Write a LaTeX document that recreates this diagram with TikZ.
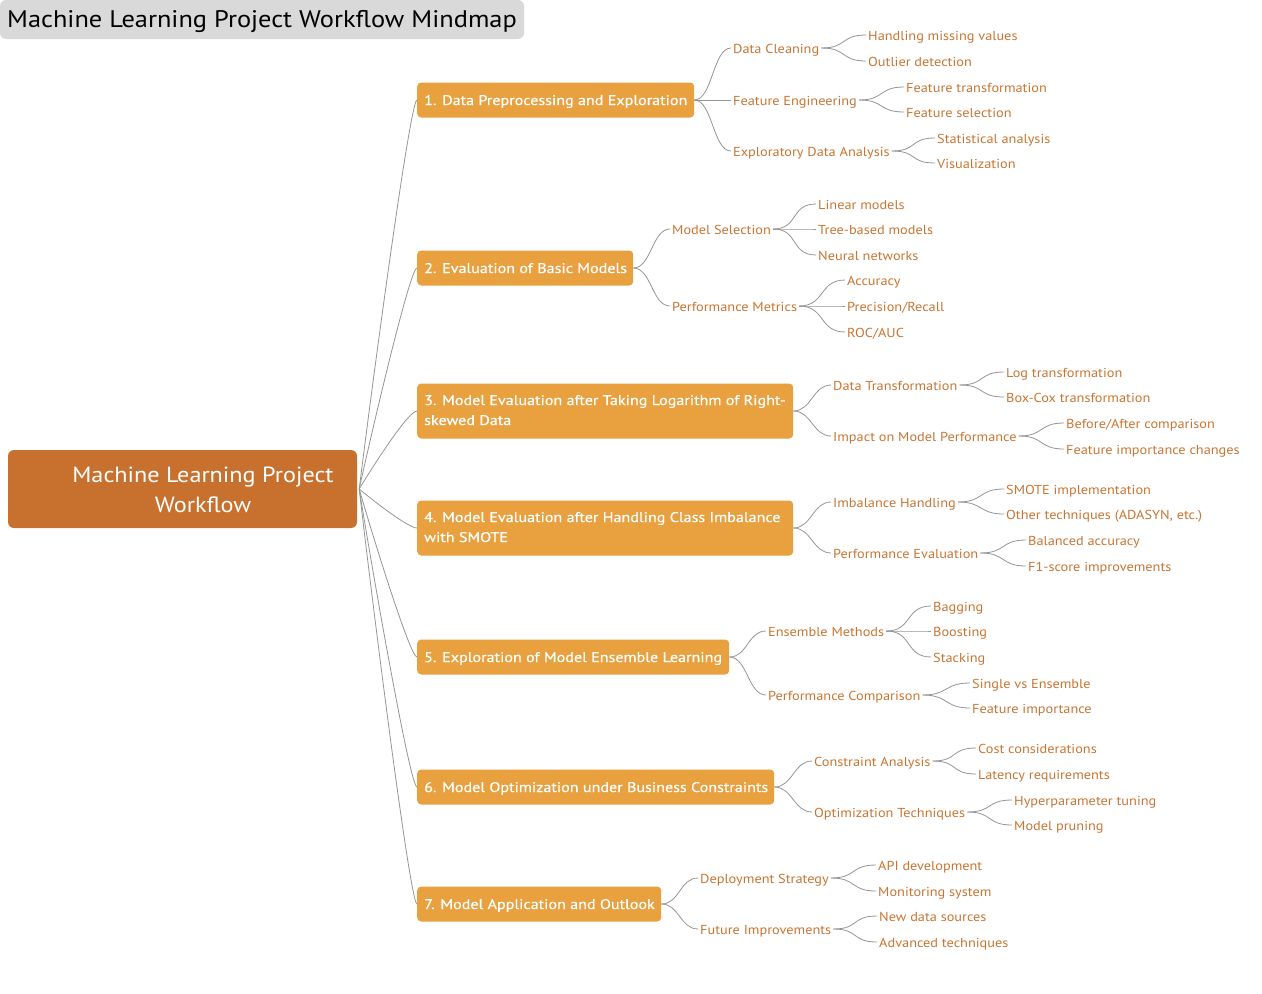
\documentclass[tikz,border=0pt]{standalone}
\usepackage{fontspec}
\setmainfont{PT Sans}[FakeStretch=1.1]
\newfontfamily\branchfont{PT Sans}[FakeStretch=1.15,FakeBold=0.6]
\definecolor{rootc}{HTML}{C8702E}
\definecolor{branchc}{HTML}{E9A03F}
\definecolor{leafc}{HTML}{C87533}
\definecolor{linec}{HTML}{959595}
\definecolor{titlec}{HTML}{D9D9D9}
\begin{document}
\begin{tikzpicture}[x=1pt,y=-1pt,
  conn/.style={draw=linec, line width=0.8pt},
  titlebox/.style={fill=titlec, rounded corners=6pt, minimum width=524pt, minimum height=39pt, inner sep=0pt, font=\fontsize{24}{28}\selectfont, text=black, text height=18pt, text depth=2pt},
  rootbox/.style={fill=rootc, rounded corners=6pt, minimum width=349pt, minimum height=78pt, inner sep=0pt},
  roottext/.style={text=white, font=\fontsize{22}{30}\selectfont, align=center, inner sep=0pt},
  bbox/.style={fill=branchc, rounded corners=4pt, text=white, font=\branchfont\fontsize{14}{20}\selectfont, anchor=west, inner xsep=7pt, inner ysep=0pt, minimum height=35pt},
  bone/.style={bbox, text height=11pt, text depth=1pt},
  sub/.style={text=leafc, font=\fontsize{13}{16}\selectfont, anchor=west, inner xsep=2pt, inner ysep=1pt, text height=11pt, text depth=0.5pt},
  leaf/.style={sub},
]
\useasboundingbox (0,0) rectangle (1262,994);

% title
\node[titlebox] (title) at (262,19.5) {Machine Learning Project Workflow Mindmap};

% root
\node[rootbox] (root) at (182.5,489) {};
\node[roottext] (roottxt) at (203,489.5) {Machine Learning Project\\Workflow};

% branches
\node[bone, minimum width=277pt] (b1) at (417,100) {\makebox[263pt][l]{1. Data Preprocessing and Exploration}};
\node[bone, minimum width=216pt] (b2) at (417,268) {\makebox[202pt][l]{2. Evaluation of Basic Models}};
\node[bbox, minimum width=376pt, minimum height=55pt] (b3) at (417,411) {\makebox[362pt][l]{\begin{tabular}{@{}l@{}}3. Model Evaluation after Taking Logarithm of Right-\\skewed Data\end{tabular}}};
\node[bbox, minimum width=376pt, minimum height=55pt] (b4) at (417,528) {\makebox[362pt][l]{\begin{tabular}{@{}l@{}}4. Model Evaluation after Handling Class Imbalance\\with SMOTE\end{tabular}}};
\node[bone, minimum width=312pt] (b5) at (417,657) {\makebox[298pt][l]{5. Exploration of Model Ensemble Learning}};
\node[bone, minimum width=357pt] (b6) at (417,787) {\makebox[343pt][l]{6. Model Optimization under Business Constraints}};
\node[bone, minimum width=244pt] (b7) at (417,904) {\makebox[230pt][l]{7. Model Application and Outlook}};

% root connectors
\draw[conn] ([xshift=2pt]root.east) .. controls +(12,-97) and +(-7,0) .. (b1.west);
\draw[conn] ([xshift=2pt]root.east) .. controls +(12,-55) and +(-7,0) .. (b2.west);
\draw[conn] ([xshift=2pt]root.east) .. controls +(12,-20) and +(-9,0) .. (b3.west);
\draw[conn] ([xshift=2pt]root.east) .. controls +(12,10) and +(-9,0) .. (b4.west);
\draw[conn] ([xshift=2pt]root.east) .. controls +(12,42) and +(-7,0) .. (b5.west);
\draw[conn] ([xshift=2pt]root.east) .. controls +(12,75) and +(-7,0) .. (b6.west);
\draw[conn] ([xshift=2pt]root.east) .. controls +(12,104) and +(-7,0) .. (b7.west);

% sub topics
\node[sub] (s11) at (731,48) {Data Cleaning};
\node[sub] (s12) at (731,100) {Feature Engineering};
\node[sub] (s13) at (731,151) {Exploratory Data Analysis};
\node[sub] (s21) at (670,229) {Model Selection};
\node[sub] (s22) at (670,306) {Performance Metrics};
\node[sub] (s31) at (831,385) {Data Transformation};
\node[sub] (s32) at (831,436) {Impact on Model Performance};
\node[sub] (s41) at (831,502) {Imbalance Handling};
\node[sub] (s42) at (831,553) {Performance Evaluation};
\node[sub] (s51) at (766,631) {Ensemble Methods};
\node[sub] (s52) at (766,695) {Performance Comparison};
\node[sub] (s61) at (812,761) {Constraint Analysis};
\node[sub] (s62) at (812,812) {Optimization Techniques};
\node[sub] (s71) at (698,878) {Deployment Strategy};
\node[sub] (s72) at (698,929) {Future Improvements};

\foreach \b/\s in {b1/s11,b1/s12,b1/s13,b2/s21,b2/s22,b3/s31,b3/s32,b4/s41,b4/s42,b5/s51,b5/s52,b6/s61,b6/s62,b7/s71,b7/s72}
  \draw[conn] (\b.east) .. controls +(18,0) and +(-18,0) .. (\s.west);

% leaves
\node[leaf] (l111) at (866,35) {Handling missing values};
\node[leaf] (l112) at (866,61) {Outlier detection};
\node[leaf] (l121) at (904,87) {Feature transformation};
\node[leaf] (l122) at (904,112) {Feature selection};
\node[leaf] (l131) at (935,138) {Statistical analysis};
\node[leaf] (l132) at (935,163) {Visualization};
\node[leaf] (l211) at (816,204) {Linear models};
\node[leaf] (l212) at (816,229) {Tree-based models};
\node[leaf] (l213) at (816,255) {Neural networks};
\node[leaf] (l221) at (845,280) {Accuracy};
\node[leaf] (l222) at (845,306) {Precision/Recall};
\node[leaf] (l223) at (845,332) {ROC/AUC};
\node[leaf] (l311) at (1004,372) {Log transformation};
\node[leaf] (l312) at (1004,397) {Box-Cox transformation};
\node[leaf] (l321) at (1064,423) {Before/After comparison};
\node[leaf] (l322) at (1064,449) {Feature importance changes};
\node[leaf] (l411) at (1004,489) {SMOTE implementation};
\node[leaf] (l412) at (1004,514) {Other techniques (ADASYN, etc.)};
\node[leaf] (l421) at (1026,540) {Balanced accuracy};
\node[leaf] (l422) at (1026,566) {F1-score improvements};
\node[leaf] (l511) at (931,606) {Bagging};
\node[leaf] (l512) at (931,631) {Boosting};
\node[leaf] (l513) at (931,657) {Stacking};
\node[leaf] (l521) at (970,683) {Single vs Ensemble};
\node[leaf] (l522) at (970,708) {Feature importance};
\node[leaf] (l611) at (976,748) {Cost considerations};
\node[leaf] (l612) at (976,774) {Latency requirements};
\node[leaf] (l621) at (1012,800) {Hyperparameter tuning};
\node[leaf] (l622) at (1012,825) {Model pruning};
\node[leaf] (l711) at (876,865) {API development};
\node[leaf] (l712) at (876,891) {Monitoring system};
\node[leaf] (l721) at (877,916) {New data sources};
\node[leaf] (l722) at (877,942) {Advanced techniques};

\foreach \s/\l in {s11/l111,s11/l112,s12/l121,s12/l122,s13/l131,s13/l132,s21/l211,s21/l212,s21/l213,s22/l221,s22/l222,s22/l223,s31/l311,s31/l312,s32/l321,s32/l322,s41/l411,s41/l412,s42/l421,s42/l422,s51/l511,s51/l512,s51/l513,s52/l521,s52/l522,s61/l611,s61/l612,s62/l621,s62/l622,s71/l711,s71/l712,s72/l721,s72/l722}
  \draw[conn] (\s.east) .. controls +(26,0) and +(-26,0) .. (\l.west);
\end{tikzpicture}
\end{document}
